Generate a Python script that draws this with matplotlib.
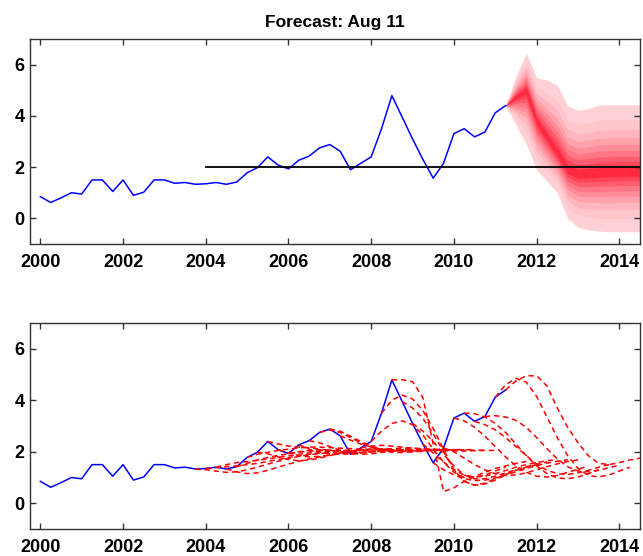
import numpy as np
import matplotlib
matplotlib.use('Agg')
import matplotlib.pyplot as plt

plt.rcParams['font.family'] = ['Liberation Sans', 'DejaVu Sans']
plt.rcParams['font.weight'] = 'bold'

# quarterly history, 2000Q1 .. 2011Q2
start_year = 2000.0
actual = [0.85, 0.62, 0.80, 1.00,
          0.95, 1.50, 1.50, 1.05,
          1.50, 0.90, 1.02, 1.50,
          1.50, 1.37, 1.40, 1.33,
          1.35, 1.40, 1.33, 1.42,
          1.78, 1.98, 2.40, 2.08,
          1.93, 2.27, 2.43, 2.75,
          2.88, 2.62, 1.90, 2.15,
          2.40, 3.50, 4.79, 3.95,
          3.10, 2.30, 1.57, 2.15,
          3.31, 3.50, 3.18, 3.37,
          4.12, 4.40]

target = 2.0
target_from = 2004.0
target_to = 2014.5

# fan chart: 5%, median and 95% bands from 2011Q2
fan_mid = [4.40, 4.75, 5.00, 3.80, 3.15, 2.55, 1.90, 1.72, 1.75, 1.78, 1.80, 1.82, 1.82, 1.82]
fan_hi = [4.40, 5.55, 6.45, 5.50, 5.40, 5.20, 4.40, 4.22, 4.28, 4.42, 4.43, 4.43, 4.43, 4.43]
fan_lo = [4.40, 3.65, 2.90, 1.90, 1.45, 1.00, 0.00, -0.35, -0.45, -0.50, -0.52, -0.52, -0.52, -0.52]
band_frac = [1.0, 0.78, 0.63, 0.51, 0.41, 0.32, 0.23, 0.15, 0.076]

# recursive forecasts, one per quarter, 13 quarters ahead
fc_origin = [2003.75, 2004.0, 2004.25, 2004.5, 2004.75, 2005.0, 2005.25, 2005.5,
             2005.75, 2006.0, 2006.25, 2006.5, 2006.75, 2007.0, 2007.25, 2007.5,
             2007.75, 2008.0, 2008.25, 2008.5, 2008.75, 2009.0, 2009.25, 2009.5,
             2009.75, 2010.0, 2010.25, 2010.5, 2010.75, 2011.0, 2011.25]
fc_paths = [
    [1.30, 1.25, 1.20, 1.22, 1.30, 1.40, 1.52, 1.63, 1.73, 1.82, 1.88, 1.93, 1.96],
    [1.38, 1.42, 1.45, 1.50, 1.55, 1.62, 1.70, 1.77, 1.84, 1.90, 1.95, 1.98, 2.00],
    [1.50, 1.58, 1.62, 1.67, 1.72, 1.78, 1.84, 1.90, 1.95, 1.99, 2.02, 2.03, 2.04],
    [1.22, 1.15, 1.18, 1.28, 1.40, 1.52, 1.63, 1.72, 1.80, 1.87, 1.92, 1.96, 1.98],
    [1.55, 1.68, 1.78, 1.86, 1.92, 1.98, 2.02, 2.05, 2.06, 2.06, 2.06, 2.05, 2.05],
    [1.90, 1.98, 2.05, 2.10, 2.15, 2.18, 2.18, 2.16, 2.14, 2.12, 2.10, 2.08, 2.07],
    [1.92, 1.80, 1.70, 1.65, 1.68, 1.75, 1.85, 1.95, 2.03, 2.08, 2.10, 2.10, 2.09],
    [2.30, 2.22, 2.18, 2.15, 2.10, 2.05, 2.00, 1.98, 1.98, 2.00, 2.02, 2.04, 2.05],
    [1.95, 1.85, 1.80, 1.82, 1.88, 1.95, 2.02, 2.07, 2.10, 2.11, 2.10, 2.09, 2.08],
    [2.00, 2.05, 2.08, 2.05, 2.00, 1.97, 1.97, 2.00, 2.03, 2.06, 2.07, 2.07, 2.07],
    [2.10, 1.98, 1.92, 1.90, 1.92, 1.96, 2.00, 2.04, 2.07, 2.08, 2.08, 2.08, 2.08],
    [2.35, 2.20, 2.05, 1.95, 1.90, 1.92, 1.97, 2.02, 2.06, 2.08, 2.09, 2.09, 2.08],
    [2.85, 2.75, 2.55, 2.35, 2.18, 2.05, 1.98, 1.97, 2.00, 2.04, 2.07, 2.08, 2.08],
    [2.80, 2.60, 2.40, 2.22, 2.10, 2.03, 2.00, 2.00, 2.02, 2.05, 2.07, 2.08, 2.08],
    [2.45, 2.30, 2.18, 2.10, 2.05, 2.03, 2.03, 2.04, 2.06, 2.07, 2.08, 2.08, 2.08],
    [1.95, 2.02, 2.08, 2.12, 2.14, 2.14, 2.12, 2.10, 2.08, 2.07, 2.06, 2.06, 2.06],
    [2.22, 2.25, 2.22, 2.18, 2.14, 2.10, 2.06, 2.04, 2.03, 2.03, 2.04, 2.05, 2.05],
    [2.80, 3.10, 3.20, 3.05, 2.65, 2.10, 1.60, 1.20, 1.00, 1.00, 1.10, 1.25, 1.40],
    [4.00, 4.20, 4.05, 3.60, 2.90, 2.10, 1.30, 0.85, 0.70, 0.75, 0.90, 1.10, 1.30],
    [4.80, 4.72, 4.10, 2.30, 0.45, 0.60, 0.85, 1.05, 1.20, 1.35, 1.45, 1.55, 1.62],
    [3.70, 3.30, 2.70, 2.00, 1.30, 0.85, 0.70, 0.78, 0.95, 1.12, 1.28, 1.40, 1.50],
    [2.80, 2.40, 1.90, 1.45, 1.10, 0.95, 0.95, 1.05, 1.18, 1.30, 1.42, 1.52, 1.60],
    [1.95, 1.60, 1.30, 1.10, 1.02, 1.05, 1.15, 1.27, 1.40, 1.50, 1.58, 1.65, 1.70],
    [1.30, 1.10, 0.95, 0.88, 0.90, 0.98, 1.10, 1.22, 1.35, 1.46, 1.56, 1.63, 1.69],
    [2.00, 1.75, 1.50, 1.30, 1.15, 1.08, 1.10, 1.18, 1.30, 1.42, 1.53, 1.62, 1.68],
    [3.20, 2.95, 2.60, 2.20, 1.80, 1.45, 1.20, 1.05, 1.02, 1.08, 1.20, 1.32, 1.45],
    [3.48, 3.35, 3.10, 2.75, 2.30, 1.85, 1.45, 1.15, 0.98, 0.95, 1.02, 1.15, 1.30],
    [3.05, 2.85, 2.55, 2.20, 1.85, 1.52, 1.28, 1.15, 1.12, 1.18, 1.28, 1.40, 1.50],
    [3.40, 3.35, 3.22, 2.95, 2.55, 2.12, 1.72, 1.42, 1.25, 1.22, 1.28, 1.38, 1.48],
    [4.60, 4.85, 4.70, 4.15, 3.35, 2.55, 1.85, 1.35, 1.08, 1.02, 1.10, 1.25, 1.40],
    [4.75, 4.95, 4.95, 4.55, 3.70, 2.95, 2.35, 1.85, 1.55, 1.50, 1.58, 1.68, 1.75],
]

t = start_year + 0.25 * np.arange(len(actual))
t_fan = t[-1] + 0.25 * np.arange(len(fan_mid))

fig = plt.figure(figsize=(6.43, 5.56), dpi=100)
ax1 = fig.add_axes([30/643, 1 - 244/556, 610/643, 205/556])
ax2 = fig.add_axes([30/643, 1 - 529/556, 610/643, 206/556])

# top: history, target and fan
mid = np.array(fan_mid)
hi = np.array(fan_hi)
lo = np.array(fan_lo)
light = np.array([1.0, 0.82, 0.84])
dark = np.array([1.0, 0.16, 0.25])
for k, f in enumerate(band_frac):
    w = (k / (len(band_frac) - 1)) ** 1.3
    col = light * (1 - w) + dark * w
    ax1.fill_between(t_fan, mid - f * (mid - lo), mid + f * (hi - mid),
                     color=col, linewidth=0)
ax1.plot(t, actual, color='blue', lw=1.1)
ax1.plot([target_from, target_to], [target, target], color='black', lw=1.3)
ax1.set_title('Forecast: Aug 11', fontsize=12.5, fontweight='bold', pad=9)

# bottom: history with the recursive forecasts
ax2.plot(t, actual, color='blue', lw=1.1)
for o, p in zip(fc_origin, fc_paths):
    i = int(round((o - start_year) / 0.25))
    ys = [actual[i]] + p
    xs = o + 0.25 * np.arange(len(ys))
    ax2.plot(xs, ys, color='red', lw=1.1, linestyle=(0, (3.5, 2.5)))

for ax in (ax1, ax2):
    ax.set_xlim(1999.75, 2014.5)
    ax.set_ylim(-1, 7)
    ax.set_xticks(range(2000, 2015, 2))
    ax.set_yticks([0, 2, 4, 6])
    ax.tick_params(direction='in', top=True, right=True, length=4, width=1,
                   labelsize=13, color='#333333')
    ax.tick_params(axis='x', pad=7)
    ax.tick_params(axis='y', pad=4)
    for s in ax.spines.values():
        s.set_color('#333333')
        s.set_linewidth(1.0)
    for lab in ax.get_xticklabels() + ax.get_yticklabels():
        lab.set_fontweight('bold')

fig.savefig('out.png', dpi=100)
